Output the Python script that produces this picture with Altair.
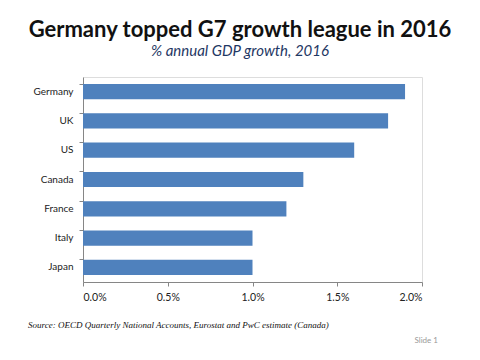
import altair as alt
import pandas as pd

countries = ["Germany", "UK", "US", "Canada", "France", "Italy", "Japan"]
growth = [1.9, 1.8, 1.6, 1.3, 1.2, 1.0, 1.0]
x_ticks = [0, 0.5, 1.0, 1.5, 2.0]

title_text = "Germany topped G7 growth league in 2016"
subtitle_text = "% annual  GDP growth,  2016"
source_text = "Source: OECD Quarterly National Accounts, Eurostat and PwC estimate (Canada)"
slide_text = "Slide 1"

df = pd.DataFrame({"country": countries, "growth": growth})

axis_color = "#868686"

bars = alt.Chart(df).mark_bar(color="#4F81BD").encode(
    y=alt.Y("country:N", sort=countries, title=None,
            scale=alt.Scale(paddingInner=0.48, paddingOuter=0.24),
            axis=alt.Axis(domainColor=axis_color, tickColor=axis_color, tickSize=4,
                          labelFont="Lato", labelFontSize=10, labelColor="#222222",
                          labelPadding=6, bandPosition=0)),
    x=alt.X("growth:Q", title=None,
            scale=alt.Scale(domain=[0, 2.0], nice=False),
            axis=alt.Axis(values=x_ticks, labelExpr="format(datum.value, '.1f') + '%'",
                          domainColor=axis_color, tickColor=axis_color, tickSize=4,
                          labelFont="Lato", labelFontSize=10.5, labelColor="#222222",
                          labelPadding=6, grid=False)),
)

def text_layer(txt, x, y, **kw):
    return alt.Chart(pd.DataFrame({"t": [txt]})).mark_text(**kw).encode(
        text="t:N", x=alt.value(x), y=alt.value(y))

title = text_layer(title_text, 157, -47, font="Lato", fontSize=22, fontWeight="bold",
                   color="#111111", align="center", baseline="middle")
subtitle = text_layer(subtitle_text, 157, -26, font="Lato", fontSize=15, fontStyle="italic",
                      color="#1F3864", align="center", baseline="middle")
source = text_layer(source_text, -55, 248, font="Liberation Serif", fontSize=9,
                    fontStyle="italic", color="#111111", align="left", baseline="middle")
slide = text_layer(slide_text, 355, 264, font="Lato", fontSize=8, color="#999999",
                   align="right", baseline="middle")

chart = alt.layer(bars, title, subtitle, source, slide).properties(
    width=339, height=205,
    autosize=alt.AutoSizeParams(type="none"),
    padding={"left": 75, "top": 69, "right": 50, "bottom": 70},
).configure_view(stroke=None).configure(background="white")

chart.save("out.html", embed_options={"renderer": "svg", "actions": False})
